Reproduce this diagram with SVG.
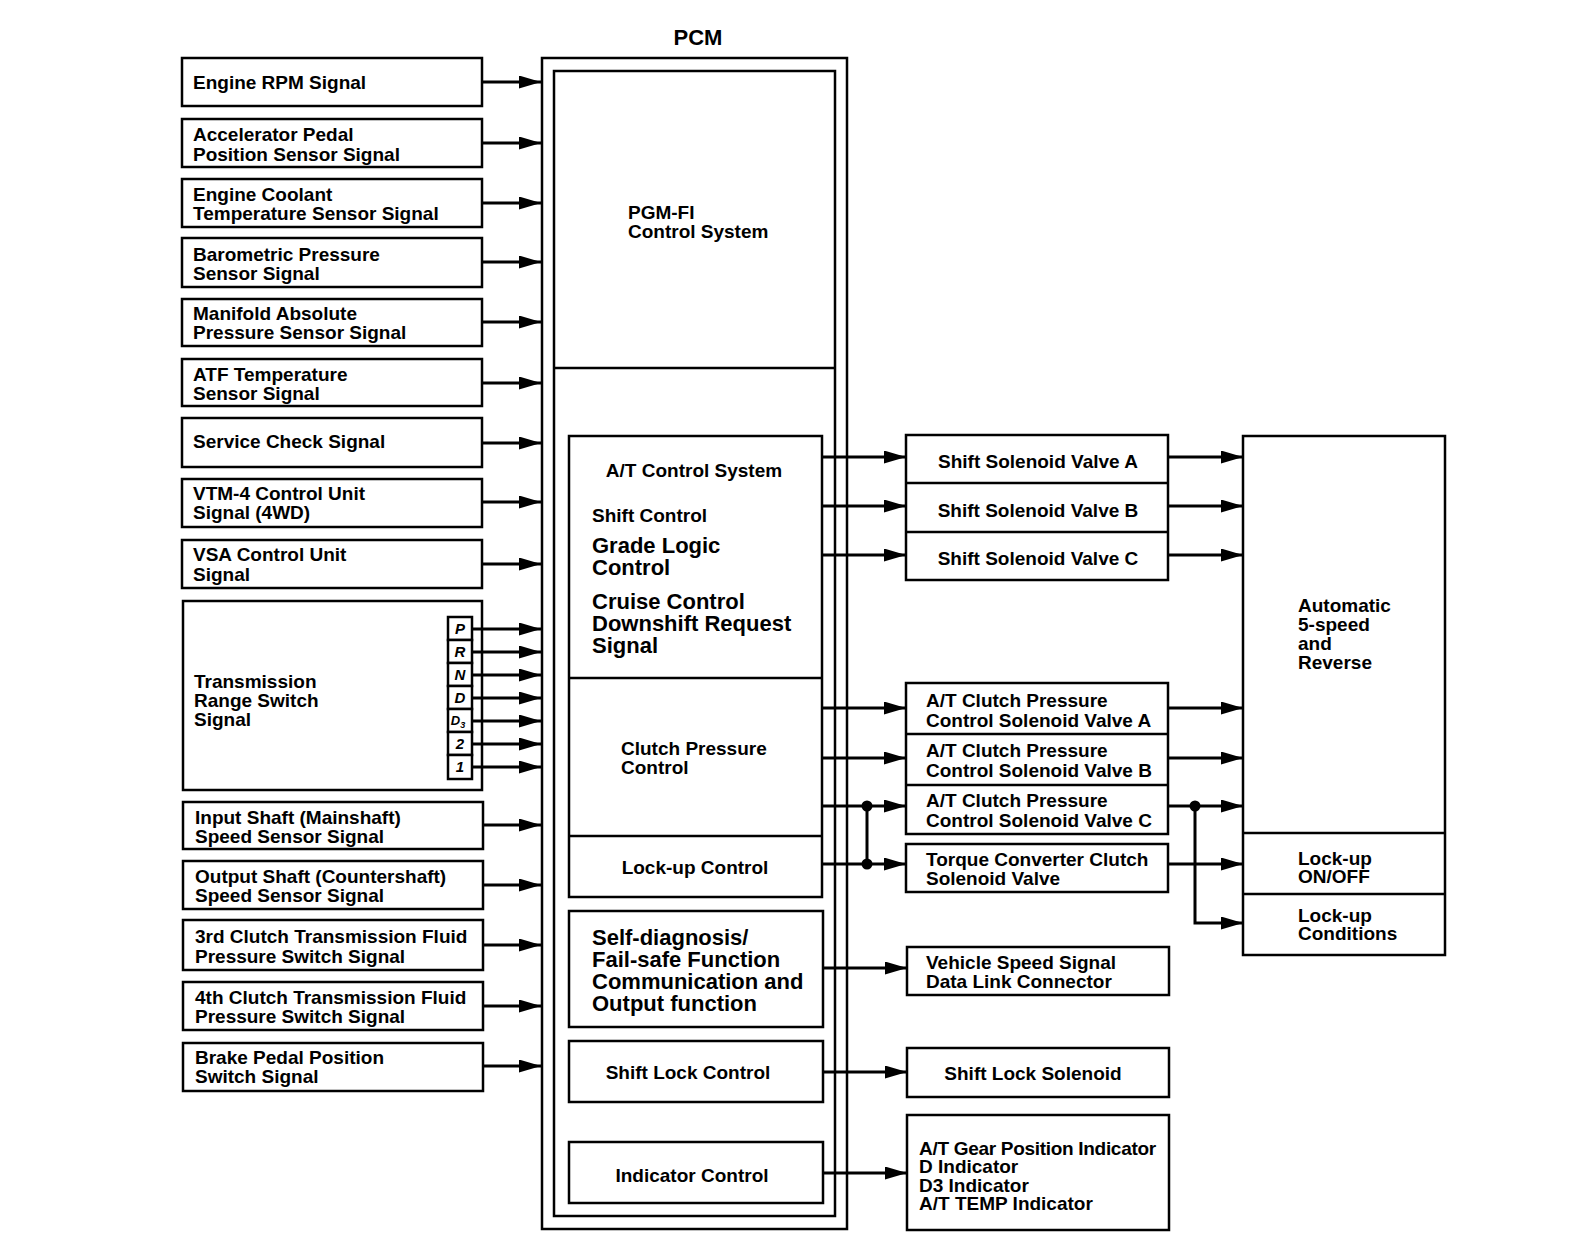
<svg xmlns="http://www.w3.org/2000/svg" width="1584" height="1254" viewBox="0 0 1584 1254">
<style>
.box{fill:#fff;stroke:#000;stroke-width:2.5}
.div{stroke:#000;stroke-width:2.5;fill:none}
.t{font-family:"Liberation Sans",Arial,Helvetica,sans-serif;font-weight:bold;font-size:19px;fill:#000}
.tl{font-size:22px}
.m{text-anchor:middle}
.lt{font-family:"Liberation Sans",Arial,sans-serif;font-weight:bold;font-style:italic;font-size:15px;text-anchor:middle}
.ln{stroke:#000;stroke-width:3;fill:none}
</style>
<defs>
<marker id="ah" markerUnits="userSpaceOnUse" markerWidth="22" markerHeight="13" refX="22" refY="6.5" orient="auto">
<path d="M0,0 L22,6.5 L0,13 z" fill="#000"/>
</marker>
</defs>
<rect width="1584" height="1254" fill="#fff"/>

<g id="pcm">
<text class="t tl m" x="698" y="45">PCM</text>
<rect class="box" x="542" y="58" width="305" height="1171"/>
<rect class="box" x="554" y="71" width="281" height="1145"/>
<line class="div" x1="554" y1="368" x2="835" y2="368"/>
</g>
<g id="pgmfi">
<text class="t" x="628" y="219">PGM-FI</text>
<text class="t" x="628" y="238">Control System</text>
</g>
<g id="at-control">
<rect class="box" x="569" y="436" width="253" height="461"/>
<line class="div" x1="569" y1="678" x2="822" y2="678"/>
<line class="div" x1="569" y1="836" x2="822" y2="836"/>
<text class="t m" x="694" y="477">A/T Control System</text>
<text class="t" x="592" y="522">Shift Control</text>
<text class="t tl" x="592" y="553">Grade Logic</text>
<text class="t tl" x="592" y="575">Control</text>
<text class="t tl" x="592" y="609">Cruise Control</text>
<text class="t tl" x="592" y="631">Downshift Request</text>
<text class="t tl" x="592" y="653">Signal</text>
<text class="t" x="621" y="755">Clutch Pressure</text>
<text class="t" x="621" y="774">Control</text>
<text class="t m" x="695" y="874">Lock-up Control</text>
</g>
<g id="selfdiag">
<rect class="box" x="569" y="911" width="254" height="116"/>
<text class="t tl" x="592" y="945">Self-diagnosis/</text>
<text class="t tl" x="592" y="967">Fail-safe Function</text>
<text class="t tl" x="592" y="989">Communication and</text>
<text class="t tl" x="592" y="1011">Output function</text>
</g>
<g id="shiftlockctl">
<rect class="box" x="569" y="1041" width="254" height="61"/>
<text class="t m" x="688" y="1079">Shift Lock Control</text>
</g>
<g id="indicatorctl">
<rect class="box" x="569" y="1142" width="254" height="61"/>
<text class="t m" x="692" y="1182">Indicator Control</text>
</g>

<g id="in-rpm"><rect class="box" x="182" y="58" width="300" height="48"/><text class="t" x="193" y="89">Engine RPM Signal</text></g>
<g id="in-app"><rect class="box" x="182" y="119" width="300" height="48"/><text class="t" x="193" y="141">Accelerator Pedal</text><text class="t" x="193" y="161">Position Sensor Signal</text></g>
<g id="in-ect"><rect class="box" x="182" y="179" width="300" height="48"/><text class="t" x="193" y="201">Engine Coolant</text><text class="t" x="193" y="220">Temperature Sensor Signal</text></g>
<g id="in-baro"><rect class="box" x="182" y="238" width="300" height="49"/><text class="t" x="193" y="261">Barometric Pressure</text><text class="t" x="193" y="280">Sensor Signal</text></g>
<g id="in-map"><rect class="box" x="182" y="299" width="300" height="47"/><text class="t" x="193" y="320">Manifold Absolute</text><text class="t" x="193" y="339">Pressure Sensor Signal</text></g>
<g id="in-atf"><rect class="box" x="182" y="359" width="300" height="47"/><text class="t" x="193" y="381">ATF Temperature</text><text class="t" x="193" y="400">Sensor Signal</text></g>
<g id="in-svc"><rect class="box" x="182" y="418" width="300" height="49"/><text class="t" x="193" y="448">Service Check Signal</text></g>
<g id="in-vtm"><rect class="box" x="182" y="479" width="300" height="48"/><text class="t" x="193" y="500">VTM-4 Control Unit</text><text class="t" x="193" y="519">Signal (4WD)</text></g>
<g id="in-vsa"><rect class="box" x="182" y="540" width="300" height="48"/><text class="t" x="193" y="561">VSA Control Unit</text><text class="t" x="193" y="581">Signal</text></g>
<g id="in-trs">
<rect class="box" x="183" y="601" width="299" height="189"/>
<text class="t" x="194" y="688">Transmission</text>
<text class="t" x="194" y="707">Range Switch</text>
<text class="t" x="194" y="726">Signal</text>
<rect class="box" x="448" y="617" width="24" height="23"/>
<rect class="box" x="448" y="640" width="24" height="23"/>
<rect class="box" x="448" y="663" width="24" height="23"/>
<rect class="box" x="448" y="686" width="24" height="23"/>
<rect class="box" x="448" y="709" width="24" height="23"/>
<rect class="box" x="448" y="732" width="24" height="23"/>
<rect class="box" x="448" y="755" width="24" height="24"/>
<text class="lt" x="460" y="634">P</text>
<text class="lt" x="460" y="657">R</text>
<text class="lt" x="460" y="680">N</text>
<text class="lt" x="460" y="703">D</text>
<text class="lt" x="458" y="725" style="font-size:13px">D<tspan font-size="9" dy="3">3</tspan></text>
<text class="lt" x="460" y="749">2</text>
<text class="lt" x="460" y="772">1</text>
</g>
<g id="in-input"><rect class="box" x="183" y="802" width="300" height="47"/><text class="t" x="195" y="824">Input Shaft (Mainshaft)</text><text class="t" x="195" y="843">Speed Sensor Signal</text></g>
<g id="in-output"><rect class="box" x="183" y="861" width="300" height="48"/><text class="t" x="195" y="883">Output Shaft (Countershaft)</text><text class="t" x="195" y="902">Speed Sensor Signal</text></g>
<g id="in-3rd"><rect class="box" x="183" y="920" width="300" height="50"/><text class="t" x="195" y="943">3rd Clutch Transmission Fluid</text><text class="t" x="195" y="963">Pressure Switch Signal</text></g>
<g id="in-4th"><rect class="box" x="183" y="982" width="300" height="48"/><text class="t" x="195" y="1004">4th Clutch Transmission Fluid</text><text class="t" x="195" y="1023">Pressure Switch Signal</text></g>
<g id="in-brake"><rect class="box" x="183" y="1043" width="300" height="48"/><text class="t" x="195" y="1064">Brake Pedal Position</text><text class="t" x="195" y="1083">Switch Signal</text></g>

<g id="shift-solenoids">
<rect class="box" x="906" y="435" width="262" height="145"/>
<line class="div" x1="906" y1="483" x2="1168" y2="483"/>
<line class="div" x1="906" y1="532" x2="1168" y2="532"/>
<text class="t m" x="1038" y="468">Shift Solenoid Valve A</text>
<text class="t m" x="1038" y="517">Shift Solenoid Valve B</text>
<text class="t m" x="1038" y="565">Shift Solenoid Valve C</text>
</g>
<g id="clutch-solenoids">
<rect class="box" x="906" y="683" width="262" height="151"/>
<line class="div" x1="906" y1="734" x2="1168" y2="734"/>
<line class="div" x1="906" y1="785" x2="1168" y2="785"/>
<text class="t" x="926" y="707">A/T Clutch Pressure</text>
<text class="t" x="926" y="727">Control Solenoid Valve A</text>
<text class="t" x="926" y="757">A/T Clutch Pressure</text>
<text class="t" x="926" y="777">Control Solenoid Valve B</text>
<text class="t" x="926" y="807">A/T Clutch Pressure</text>
<text class="t" x="926" y="827">Control Solenoid Valve C</text>
</g>
<g id="tcc">
<rect class="box" x="906" y="844" width="262" height="48"/>
<text class="t" x="926" y="866">Torque Converter Clutch</text>
<text class="t" x="926" y="885">Solenoid Valve</text>
</g>
<g id="vss-dlc">
<rect class="box" x="907" y="947" width="262" height="48"/>
<text class="t" x="926" y="969">Vehicle Speed Signal</text>
<text class="t" x="926" y="988">Data Link Connector</text>
</g>
<g id="shiftlock-sol">
<rect class="box" x="907" y="1048" width="262" height="49"/>
<text class="t m" x="1033" y="1080">Shift Lock Solenoid</text>
</g>
<g id="indicators">
<rect class="box" x="907" y="1115" width="262" height="115"/>
<text class="t" x="919" y="1155" letter-spacing="-0.3">A/T Gear Position Indicator</text>
<text class="t" x="919" y="1173">D Indicator</text>
<text class="t" x="919" y="1192">D3 Indicator</text>
<text class="t" x="919" y="1210">A/T TEMP Indicator</text>
</g>
<g id="transmission">
<rect class="box" x="1243" y="436" width="202" height="519"/>
<line class="div" x1="1243" y1="833" x2="1445" y2="833"/>
<line class="div" x1="1243" y1="894" x2="1445" y2="894"/>
<text class="t" x="1298" y="612">Automatic</text>
<text class="t" x="1298" y="631">5-speed</text>
<text class="t" x="1298" y="650">and</text>
<text class="t" x="1298" y="669">Reverse</text>
<text class="t" x="1298" y="865">Lock-up</text>
<text class="t" x="1298" y="883">ON/OFF</text>
<text class="t" x="1298" y="922">Lock-up</text>
<text class="t" x="1298" y="940">Conditions</text>
</g>

<g id="connectors">
<line class="ln" x1="482" y1="82" x2="541" y2="82" marker-end="url(#ah)"/>
<line class="ln" x1="482" y1="143" x2="541" y2="143" marker-end="url(#ah)"/>
<line class="ln" x1="482" y1="203" x2="541" y2="203" marker-end="url(#ah)"/>
<line class="ln" x1="482" y1="262" x2="541" y2="262" marker-end="url(#ah)"/>
<line class="ln" x1="482" y1="322" x2="541" y2="322" marker-end="url(#ah)"/>
<line class="ln" x1="482" y1="383" x2="541" y2="383" marker-end="url(#ah)"/>
<line class="ln" x1="482" y1="443" x2="541" y2="443" marker-end="url(#ah)"/>
<line class="ln" x1="482" y1="502" x2="541" y2="502" marker-end="url(#ah)"/>
<line class="ln" x1="482" y1="564" x2="541" y2="564" marker-end="url(#ah)"/>
<line class="ln" x1="472" y1="629" x2="541" y2="629" marker-end="url(#ah)"/>
<line class="ln" x1="472" y1="652" x2="541" y2="652" marker-end="url(#ah)"/>
<line class="ln" x1="472" y1="675" x2="541" y2="675" marker-end="url(#ah)"/>
<line class="ln" x1="472" y1="698" x2="541" y2="698" marker-end="url(#ah)"/>
<line class="ln" x1="472" y1="721" x2="541" y2="721" marker-end="url(#ah)"/>
<line class="ln" x1="472" y1="744" x2="541" y2="744" marker-end="url(#ah)"/>
<line class="ln" x1="472" y1="767" x2="541" y2="767" marker-end="url(#ah)"/>
<line class="ln" x1="483" y1="825" x2="541" y2="825" marker-end="url(#ah)"/>
<line class="ln" x1="483" y1="885" x2="541" y2="885" marker-end="url(#ah)"/>
<line class="ln" x1="483" y1="945" x2="541" y2="945" marker-end="url(#ah)"/>
<line class="ln" x1="483" y1="1006" x2="541" y2="1006" marker-end="url(#ah)"/>
<line class="ln" x1="483" y1="1066" x2="541" y2="1066" marker-end="url(#ah)"/>

<line class="ln" x1="822" y1="457" x2="906" y2="457" marker-end="url(#ah)"/>
<line class="ln" x1="822" y1="506" x2="906" y2="506" marker-end="url(#ah)"/>
<line class="ln" x1="822" y1="555" x2="906" y2="555" marker-end="url(#ah)"/>
<line class="ln" x1="822" y1="708" x2="906" y2="708" marker-end="url(#ah)"/>
<line class="ln" x1="822" y1="758" x2="906" y2="758" marker-end="url(#ah)"/>
<line class="ln" x1="822" y1="806" x2="906" y2="806" marker-end="url(#ah)"/>
<line class="ln" x1="822" y1="864" x2="906" y2="864" marker-end="url(#ah)"/>
<line class="ln" x1="867" y1="806" x2="867" y2="864"/>
<circle cx="867" cy="806" r="5.5" fill="#000"/>
<circle cx="867" cy="864" r="5.5" fill="#000"/>
<line class="ln" x1="823" y1="968" x2="907" y2="968" marker-end="url(#ah)"/>
<line class="ln" x1="823" y1="1072" x2="907" y2="1072" marker-end="url(#ah)"/>
<line class="ln" x1="823" y1="1173" x2="907" y2="1173" marker-end="url(#ah)"/>

<line class="ln" x1="1168" y1="457" x2="1243" y2="457" marker-end="url(#ah)"/>
<line class="ln" x1="1168" y1="506" x2="1243" y2="506" marker-end="url(#ah)"/>
<line class="ln" x1="1168" y1="555" x2="1243" y2="555" marker-end="url(#ah)"/>
<line class="ln" x1="1168" y1="708" x2="1243" y2="708" marker-end="url(#ah)"/>
<line class="ln" x1="1168" y1="758" x2="1243" y2="758" marker-end="url(#ah)"/>
<line class="ln" x1="1168" y1="806" x2="1243" y2="806" marker-end="url(#ah)"/>
<line class="ln" x1="1168" y1="864" x2="1243" y2="864" marker-end="url(#ah)"/>
<polyline class="ln" points="1195,806 1195,923 1243,923" marker-end="url(#ah)"/>
<circle cx="1195" cy="806" r="5.5" fill="#000"/>
</g>
</svg>
